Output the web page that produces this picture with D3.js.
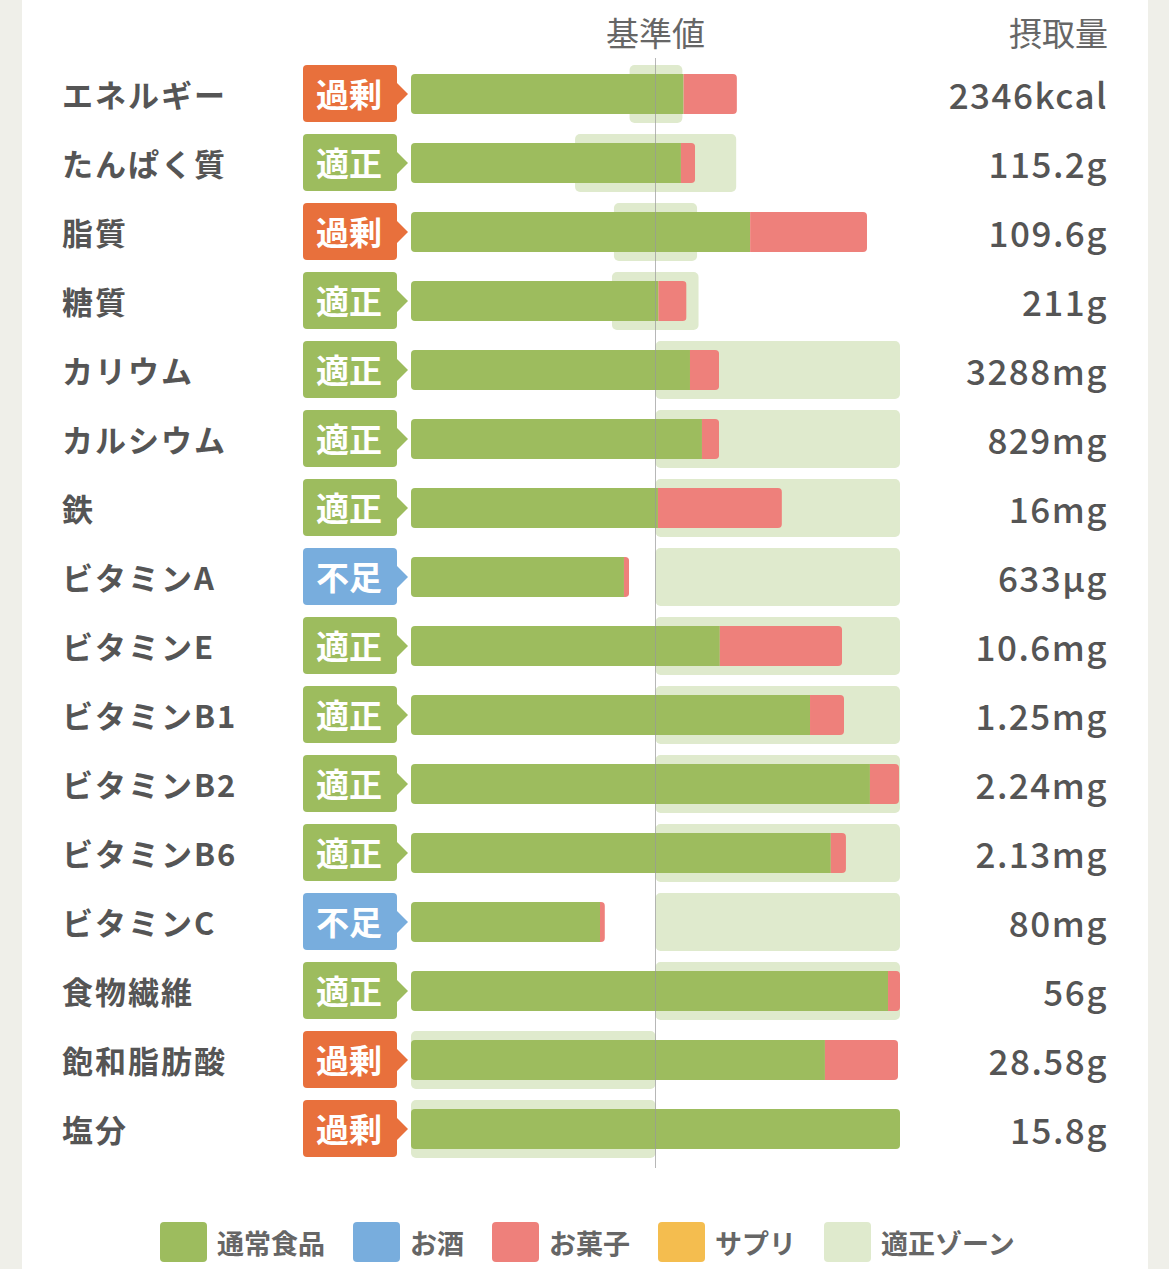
<!DOCTYPE html>
<html>
<head>
<meta charset="utf-8">
<script src="https://cdn.jsdelivr.net/npm/d3@7"></script>
<style>
  html, body { margin: 0; padding: 0; background: #efefe9; }
  svg { display: block; font-family: "Noto Sans CJK JP", "Noto Sans", sans-serif; }
</style>
</head>
<body>
<svg id="chart" width="1169" height="1269"></svg>
<script>
// 栄養素ごとのデータ(基準値を100%とした割合)
const nutrients = ["エネルギー", "たんぱく質", "脂質", "糖質", "カリウム", "カルシウム", "鉄",
  "ビタミンA", "ビタミンE", "ビタミンB1", "ビタミンB2", "ビタミンB6", "ビタミンC",
  "食物繊維", "飽和脂肪酸", "塩分"];
const status = ["過剰", "適正", "過剰", "適正", "適正", "適正", "適正",
  "不足", "適正", "適正", "適正", "適正", "不足", "適正", "過剰", "過剰"];
const intake = ["2346kcal", "115.2g", "109.6g", "211g", "3288mg", "829mg", "16mg",
  "633µg", "10.6mg", "1.25mg", "2.24mg", "2.13mg", "80mg", "56g", "28.58g", "15.8g"];
// 通常食品 (%)
const foodPct = [111.5, 110.4, 138.7, 101.2, 114.1, 119.0, 101.0,
  87.1, 126.3, 163.2, 187.7, 171.7, 77.3, 195.1, 169.3, 200];
// お菓子 (%)
const sweetsPct = [21.8, 5.8, 47.8, 11.5, 11.9, 7.0, 50.7,
  2.1, 50.0, 13.9, 11.9, 6.2, 2.0, 4.9, 29.9, 0];
// 適正ゾーン (%)
const zoneLow = [89.4, 67.1, 83.0, 82.2, 100, 100, 100, 100, 100, 100, 100, 100, 100, 100, 0, 0];
const zoneHigh = [111.0, 133.0, 117.0, 117.6, 200, 200, 200, 200, 200, 200, 200, 200, 200, 200, 100, 100];

const legendLabels = ["通常食品", "お酒", "お菓子", "サプリ", "適正ゾーン"];
const legendColors = ["#9dbc5e", "#78addd", "#ee807b", "#f4bd4f", "#dfeacd"];
const statusColors = { "過剰": "#e8703c", "適正": "#9dbc5e", "不足": "#78addd" };

const svg = d3.select("#chart");
const textColor = "#555";

// 白いパネル
svg.append("rect")
  .attr("x", 22).attr("y", 0)
  .attr("width", 1126).attr("height", 1269)
  .attr("fill", "#fff");

const x = d3.scaleLinear().domain([0, 200]).range([411, 900]);
const y = d3.scaleBand().domain(nutrients).range([74, 74 + 69 * nutrients.length]).paddingInner(0);
const barH = 40;

const rows = nutrients.map((name, i) => ({
  name, i,
  status: status[i],
  intake: intake[i],
  food: foodPct[i],
  sweets: sweetsPct[i],
  zLo: zoneLow[i],
  zHi: zoneHigh[i]
}));

// ヘッダー
svg.append("text")
  .attr("x", x(100)).attr("y", 32)
  .attr("text-anchor", "middle")
  .attr("dominant-baseline", "central")
  .attr("font-size", "33px")
  .attr("fill", "#666")
  .text("基準値");
svg.append("text")
  .attr("x", 1108).attr("y", 32)
  .attr("text-anchor", "end")
  .attr("dominant-baseline", "central")
  .attr("font-size", "33px")
  .attr("fill", "#666")
  .text("摂取量");

const defs = svg.append("defs");
defs.selectAll("clipPath")
  .data(rows)
  .join("clipPath")
  .attr("id", d => "clip" + d.i)
  .append("rect")
  .attr("x", x(0))
  .attr("y", d => y(d.name))
  .attr("width", d => x(d.food + d.sweets) - x(0))
  .attr("height", barH)
  .attr("rx", 4);

const row = svg.selectAll("g.row")
  .data(rows)
  .join("g")
  .attr("class", "row");

// 適正ゾーン
row.append("rect")
  .attr("x", d => x(d.zLo))
  .attr("y", d => y(d.name) - 9)
  .attr("width", d => x(d.zHi) - x(d.zLo))
  .attr("height", barH + 18)
  .attr("rx", 5)
  .attr("fill", legendColors[4]);

// 積み上げバー
const bars = row.append("g").attr("clip-path", d => `url(#clip${d.i})`);
bars.append("rect")
  .attr("x", x(0))
  .attr("y", d => y(d.name))
  .attr("width", d => x(d.food) - x(0))
  .attr("height", barH)
  .attr("fill", legendColors[0]);
bars.append("rect")
  .attr("x", d => x(d.food))
  .attr("y", d => y(d.name))
  .attr("width", d => x(d.food + d.sweets) - x(d.food))
  .attr("height", barH)
  .attr("fill", legendColors[2]);

// 判定バッジ
row.append("rect")
  .attr("x", 303)
  .attr("y", d => y(d.name) - 9)
  .attr("width", 94)
  .attr("height", 57)
  .attr("rx", 4)
  .attr("fill", d => statusColors[d.status]);
row.append("path")
  .attr("d", d => {
    const cy = y(d.name) + barH / 2;
    return `M396,${cy - 12} L408,${cy} L396,${cy + 12} Z`;
  })
  .attr("fill", d => statusColors[d.status]);
row.append("text")
  .attr("x", 349)
  .attr("y", d => y(d.name) + barH / 2 - 1)
  .attr("text-anchor", "middle")
  .attr("dominant-baseline", "central")
  .attr("font-size", "33px")
  .attr("font-weight", 700)
  .attr("fill", "#fff")
  .text(d => d.status);

// 栄養素名
row.append("text")
  .attr("x", 62)
  .attr("y", d => y(d.name) + barH / 2 - 1)
  .attr("dominant-baseline", "central")
  .attr("font-size", "31px")
  .attr("font-weight", 700)
  .attr("letter-spacing", "2px")
  .attr("fill", textColor)
  .text(d => d.name);

// 摂取量
row.append("text")
  .attr("x", 1108)
  .attr("y", d => y(d.name) + barH / 2 - 1)
  .attr("text-anchor", "end")
  .attr("dominant-baseline", "central")
  .attr("font-size", "35px")
  .attr("font-weight", 500)
  .attr("letter-spacing", "1.5px")
  .attr("fill", textColor)
  .text(d => d.intake);

// 基準線
svg.append("line")
  .attr("x1", x(100)).attr("x2", x(100))
  .attr("y1", 58).attr("y2", 1168)
  .attr("stroke", "#999")
  .attr("stroke-opacity", 0.7)
  .attr("stroke-width", 1);

// 凡例
const legend = svg.append("g").attr("class", "legend");
let lx = 160;
legendLabels.forEach((label, i) => {
  legend.append("rect")
    .attr("x", lx).attr("y", 1222)
    .attr("width", 47).attr("height", 40)
    .attr("rx", 4)
    .attr("fill", legendColors[i]);
  const t = legend.append("text")
    .attr("x", lx + 57).attr("y", 1242)
    .attr("dominant-baseline", "central")
    .attr("font-size", "27px")
    .attr("font-weight", 700)
    .attr("fill", "#666")
    .text(label);
  lx += 57 + t.node().getComputedTextLength() + 28;
});
</script>
</body>
</html>
